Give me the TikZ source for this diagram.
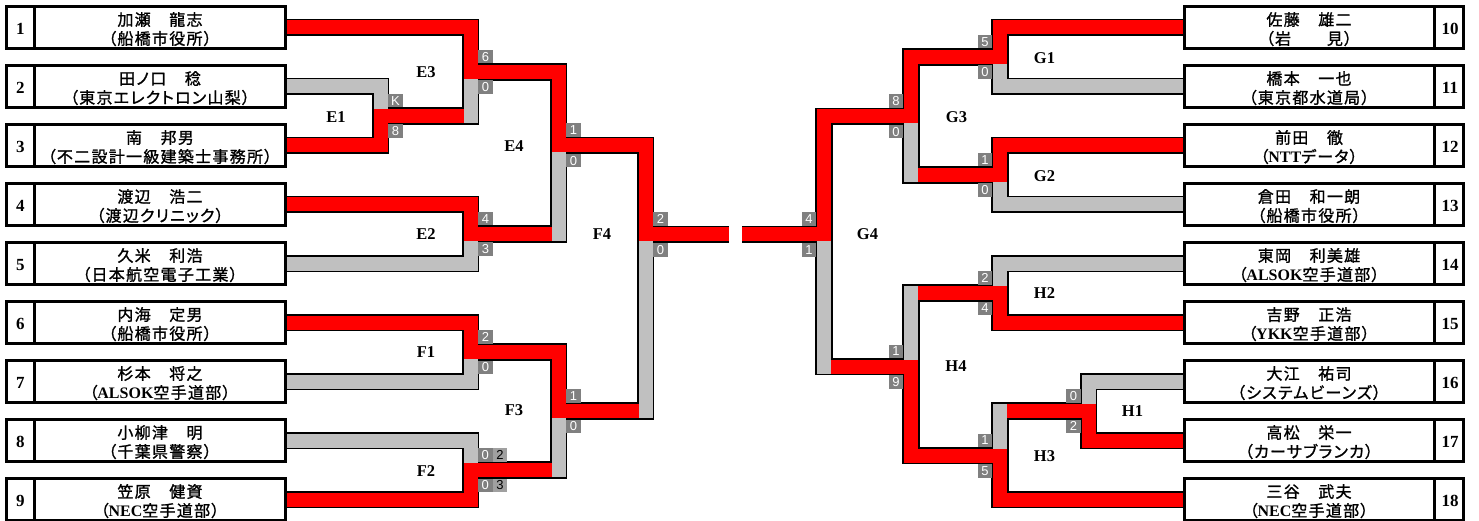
\documentclass[tikz,border=0pt]{standalone}
\usepackage{fontspec}
\setmainfont{Liberation Serif}
\newfontfamily\jp[RawFeature=+palt,LetterSpace=8,FakeBold=1.2]{Noto Sans CJK JP}
\newfontfamily\latf{Liberation Serif}
\newfontfamily\sansf{Liberation Sans}
\definecolor{winc}{RGB}{255,0,0}
\definecolor{losc}{RGB}{192,192,192}
\definecolor{scg}{RGB}{128,128,128}
\definecolor{scgb}{RGB}{160,160,160}
\newif\ifblk
\def\tubehw{7}
\def\tubetk{1.7}
\newcommand\tubeH[4]{\ifblk\fill[black] ({#2-\tubetk},{#4-\tubehw-\tubetk}) rectangle ({#3+\tubetk},{#4+\tubehw+\tubetk});\else\fill[#1] (#2,{#4-\tubehw}) rectangle (#3,{#4+\tubehw});\fi}
\newcommand\tubeV[4]{\ifblk\fill[black] ({#2-\tubehw-\tubetk},{#3-\tubetk}) rectangle ({#2+\tubehw+\tubetk},{#4+\tubetk});\else\fill[#1] ({#2-\tubehw},#3) rectangle ({#2+\tubehw},#4);\fi}
\newcommand\tubeF[4]{\ifblk\fill[black] (#2,{#4-\tubehw-\tubetk}) rectangle (#3,{#4+\tubehw+\tubetk});\else\fill[#1] (#2,{#4-\tubehw}) rectangle (#3,{#4+\tubehw});\fi}
\newcommand\LT[1]{{\latf\bfseries #1}}
\newcommand\alltubes{%
% horizontals, left
\tubeH{winc}{286}{470.5}{27.5}
\tubeH{losc}{286}{380.5}{86.5}
\tubeH{winc}{286}{380.5}{145.5}
\tubeH{winc}{380.5}{470.5}{116}
\tubeH{winc}{470.5}{558.5}{72}
\tubeH{winc}{286}{470.5}{204.5}
\tubeH{losc}{286}{470.5}{263.5}
\tubeH{winc}{470.5}{558.5}{234}
\tubeH{winc}{558.5}{645.5}{145.5}
\tubeH{winc}{286}{470.5}{322.5}
\tubeH{losc}{286}{470.5}{381.5}
\tubeH{winc}{470.5}{558.5}{352}
\tubeH{losc}{286}{470.5}{440.5}
\tubeH{winc}{286}{470.5}{499.5}
\tubeH{winc}{470.5}{558.5}{470}
\tubeH{winc}{558.5}{645.5}{411}
\tubeF{winc}{645.5}{729}{234.5}
% horizontals, right
\tubeH{winc}{1000}{1184}{27.5}
\tubeH{losc}{1000}{1184}{86.5}
\tubeH{winc}{911}{1000}{57}
\tubeH{winc}{1000}{1184}{145.5}
\tubeH{losc}{1000}{1184}{204.5}
\tubeH{winc}{911}{1000}{175}
\tubeH{winc}{824}{911}{116.5}
\tubeH{losc}{1000}{1184}{263.5}
\tubeH{winc}{1000}{1184}{322.5}
\tubeH{winc}{911}{1000}{293}
\tubeH{losc}{1088.5}{1184}{381.5}
\tubeH{winc}{1088.5}{1184}{440.5}
\tubeH{winc}{1000}{1088.5}{411}
\tubeH{winc}{1000}{1184}{499.5}
\tubeH{winc}{911}{1000}{455.5}
\tubeH{winc}{824}{911}{366.5}
\tubeF{winc}{742}{824}{234.5}
% verticals, left
\tubeV{losc}{380.5}{79.5}{109}
\tubeV{winc}{380.5}{109}{152.5}
\tubeV{winc}{470.5}{20.5}{79}
\tubeV{losc}{470.5}{79}{123}
\tubeV{winc}{470.5}{197.5}{241}
\tubeV{losc}{470.5}{241}{270.5}
\tubeV{winc}{558.5}{65}{152.5}
\tubeV{losc}{558.5}{152.5}{241}
\tubeV{winc}{470.5}{315.5}{359}
\tubeV{losc}{470.5}{359}{388.5}
\tubeV{losc}{470.5}{433.5}{463}
\tubeV{winc}{470.5}{463}{506.5}
\tubeV{winc}{558.5}{345}{418}
\tubeV{losc}{558.5}{418}{477}
\tubeV{winc}{645.5}{138.5}{241.5}
\tubeV{losc}{645.5}{241.5}{418}
% verticals, right
\tubeV{winc}{1000}{20.5}{64}
\tubeV{losc}{1000}{64}{93.5}
\tubeV{winc}{1000}{138.5}{182}
\tubeV{losc}{1000}{182}{211.5}
\tubeV{winc}{911}{50}{123.5}
\tubeV{losc}{911}{123.5}{182}
\tubeV{losc}{1000}{256.5}{286}
\tubeV{winc}{1000}{286}{329.5}
\tubeV{losc}{1088.5}{374.5}{404}
\tubeV{winc}{1088.5}{404}{447.5}
\tubeV{losc}{1000}{404}{448.5}
\tubeV{winc}{1000}{448.5}{506.5}
\tubeV{losc}{911}{286}{359.5}
\tubeV{winc}{911}{359.5}{462.5}
\tubeV{winc}{824}{109.5}{241.5}
\tubeV{losc}{824}{241.5}{373.5}
}
\newcommand\playerL[3]{%
 \pgfmathsetmacro\boxtop{5+59*(#1-1)}%
 \node[pbox] (b#1) at (146,{\boxtop+22.5}) {};
 \draw[line width=2.7pt] (34.7,{\boxtop+1.35}) -- (34.7,{\boxtop+43.65});
 \node[numf] (n#1) at (20.5,{\boxtop+29.5}) {#1};
 \node[namef] (a#1) at (160,{\boxtop+20.6}) {#2};
 \node[namef] (c#1) at (160,{\boxtop+39.6}) {#3};}
\newcommand\playerR[3]{%
 \pgfmathsetmacro\boxtop{5+59*(#1-10)}%
 \node[pbox] (b#1) at (1324.15,{\boxtop+22.5}) {};
 \draw[line width=2.7pt] (1434.7,{\boxtop+1.35}) -- (1434.7,{\boxtop+43.65});
 \node[numf] (n#1) at (1450,{\boxtop+29.5}) {#1};
 \node[namef] (a#1) at (1309,{\boxtop+20.6}) {#2};
 \node[namef] (c#1) at (1309,{\boxtop+39.6}) {#3};}
\newcommand\scoreL[5]{%
 \node[sc] (#1t) at ({#2+15},{#3-15.25}) {#4};
 \node[sc] (#1b) at ({#2+15},{#3+15.25}) {#5};}
\newcommand\scoreR[5]{%
 \node[sc] (#1t) at ({#2-15},{#3-15.25}) {#4};
 \node[sc] (#1b) at ({#2-15},{#3+15.25}) {#5};}
\begin{document}
\begin{tikzpicture}[x=1pt,y=-1pt,
 pbox/.style={draw,line width=2.7pt,fill=white,minimum width=279.3pt,minimum height=42.3pt,inner sep=0pt,outer sep=0pt},
 numf/.style={font=\fontsize{17}{20}\selectfont\bfseries,anchor=base,inner sep=0pt},
 namef/.style={font={\fontsize{16}{19}\jp},anchor=base,inner sep=0pt},
 ml/.style={font=\fontsize{16.5}{19}\selectfont\bfseries,inner sep=0pt},
 sc/.style={fill=scg,text=white,minimum width=14.5pt,minimum height=13.5pt,inner sep=0pt,font={\fontsize{13}{14}\sansf}},
 scb/.style={sc,fill=scgb,text=black}]
\useasboundingbox (0,0) rectangle (1479,521);
\blktrue\alltubes
\blkfalse\alltubes
% scores
\scoreL{E1}{380.5}{116}{K}{8}
\scoreL{E3}{470.5}{72}{6}{0}
\scoreL{E2}{470.5}{234}{4}{3}
\scoreL{E4}{558.5}{145.5}{1}{0}
\scoreL{F1}{470.5}{352}{2}{0}
\scoreL{F3}{558.5}{411}{1}{0}
\scoreL{F4}{645.5}{234.5}{2}{0}
\node[sc] (F2t) at (485.25,454.75) {0};
\node[scb] (F2tx) at (500,454.75) {2};
\node[sc] (F2b) at (485.25,485.25) {0};
\node[scb] (F2bx) at (500,485.25) {3};
\scoreR{G1}{1000}{57}{5}{0}
\scoreR{G2}{1000}{175}{1}{0}
\scoreR{G3}{911}{116.5}{8}{0}
\scoreR{H2}{1000}{293}{2}{4}
\scoreR{H1}{1088.5}{411}{0}{2}
\scoreR{H3}{1000}{455.5}{1}{5}
\scoreR{H4}{911}{366.5}{1}{9}
\scoreR{G4}{824}{234.5}{4}{1}
% match labels
\node[ml] (lE1) at (336,117) {E1};
\node[ml] (lE3) at (426,72.5) {E3};
\node[ml] (lE2) at (426,234) {E2};
\node[ml] (lE4) at (514,146) {E4};
\node[ml] (lF1) at (426,352.5) {F1};
\node[ml] (lF2) at (426,471) {F2};
\node[ml] (lF3) at (514,410.5) {F3};
\node[ml] (lF4) at (602,234.5) {F4};
\node[ml] (lG1) at (1044.5,58) {G1};
\node[ml] (lG2) at (1044.5,176) {G2};
\node[ml] (lG3) at (956.5,117) {G3};
\node[ml] (lG4) at (867.5,234.5) {G4};
\node[ml] (lH2) at (1044.5,293.5) {H2};
\node[ml] (lH4) at (956,366.5) {H4};
\node[ml] (lH1) at (1132.5,411) {H1};
\node[ml] (lH3) at (1044.5,456) {H3};
% players
\playerL{1}{加瀬　龍志}{（船橋市役所）}
\playerL{2}{田ノ口　稔}{（東京エレクトロン山梨）}
\playerL{3}{南　邦男}{（不二設計一級建築士事務所）}
\playerL{4}{渡辺　浩二}{（渡辺クリニック）}
\playerL{5}{久米　利浩}{（日本航空電子工業）}
\playerL{6}{内海　定男}{（船橋市役所）}
\playerL{7}{杉本　将之}{（\LT{ALSOK}空手道部）}
\playerL{8}{小柳津　明}{（千葉県警察）}
\playerL{9}{笠原　健資}{（\LT{NEC}空手道部）}
\playerR{10}{佐藤　雄二}{（岩　　見）}
\playerR{11}{橋本　一也}{（東京都水道局）}
\playerR{12}{前田　徹}{（\LT{NTT}データ）}
\playerR{13}{倉田　和一朗}{（船橋市役所）}
\playerR{14}{東岡　利美雄}{（\LT{ALSOK}空手道部）}
\playerR{15}{吉野　正浩}{（\LT{YKK}空手道部）}
\playerR{16}{大江　祐司}{（システムビーンズ）}
\playerR{17}{高松　栄一}{（カーサブランカ）}
\playerR{18}{三谷　武夫}{（\LT{NEC}空手道部）}
\end{tikzpicture}
\end{document}
